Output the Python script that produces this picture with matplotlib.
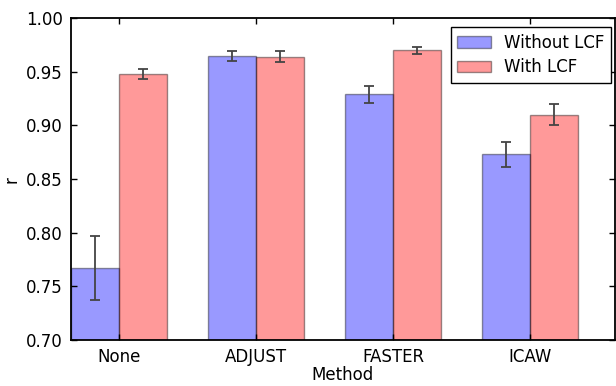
import numpy as np
import matplotlib
matplotlib.use("Agg")
import matplotlib.pyplot as plt

methods = ["None", "ADJUST", "FASTER", "ICAW"]
without_lcf = [0.767, 0.965, 0.929, 0.873]
without_err = [0.030, 0.0046, 0.008, 0.012]
with_lcf = [0.948, 0.964, 0.970, 0.910]
with_err = [0.0045, 0.005, 0.0035, 0.010]

plt.rcParams["font.family"] = "DejaVu Sans"
plt.rcParams["font.size"] = 12

fig = plt.figure(figsize=(6.16, 3.86), dpi=100)
ax = fig.add_axes([0.1153, 0.119, 0.883, 0.834])

ind = np.arange(len(methods))
width = 0.35
err_kw = dict(ecolor="#444444", elinewidth=1.3, capsize=3.5, capthick=1.3)

ax.bar(ind - width / 2, without_lcf, width, yerr=without_err, color="b",
       alpha=0.4, edgecolor="k", linewidth=1.0, label="Without LCF",
       error_kw=err_kw)
ax.bar(ind + width / 2, with_lcf, width, yerr=with_err, color="r",
       alpha=0.4, edgecolor="k", linewidth=1.0, label="With LCF",
       error_kw=err_kw)

ax.set_xlim(-0.35, 3.62)
ax.set_ylim(0.70, 1.00)
ax.set_yticks(np.arange(0.70, 1.001, 0.05))
ax.set_xticks(ind)
ax.set_xticklabels(methods)
ax.tick_params(direction="in", top=True, right=True, length=4, width=1,
               pad=6)
for s in ax.spines.values():
    s.set_linewidth(1.3)

ax.set_xlabel("Method", labelpad=0)
ax.set_ylabel("r", labelpad=4)

leg = ax.legend(loc="upper right", bbox_to_anchor=(0.993, 0.972),
                fancybox=False, framealpha=1, edgecolor="k",
                borderaxespad=0, handlelength=2.0, borderpad=0.4,
                labelspacing=0.4)
leg.get_frame().set_linewidth(1.0)

fig.savefig("out.png", dpi=100)
